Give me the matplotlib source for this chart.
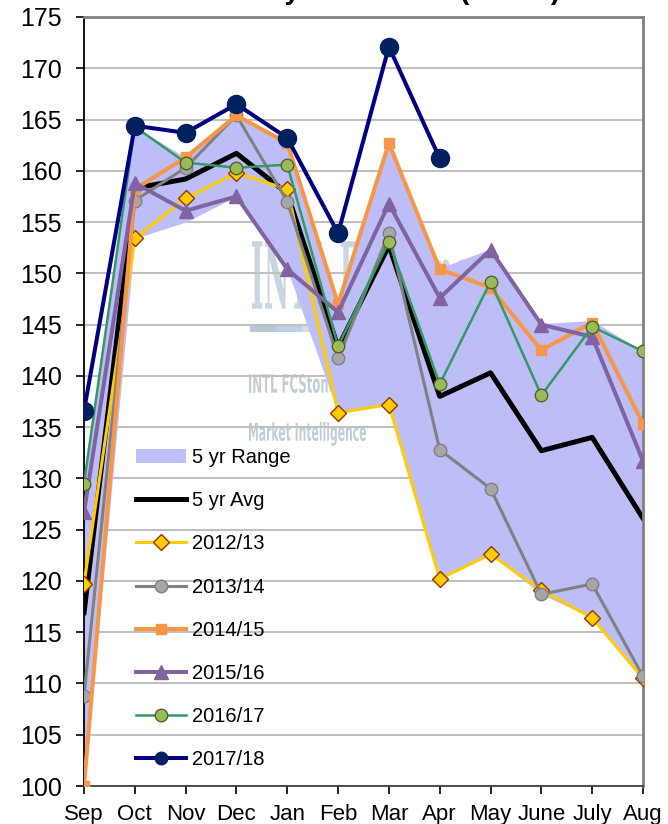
import matplotlib
matplotlib.use("Agg")
import matplotlib.pyplot as plt
from matplotlib.patches import Patch, PathPatch, Rectangle
from matplotlib.lines import Line2D
from matplotlib.textpath import TextPath
from matplotlib.font_manager import FontProperties
from matplotlib.transforms import Affine2D, IdentityTransform

plt.rcParams['font.family'] = ['Liberation Sans', 'DejaVu Sans']

# Marketing-year months
months = ['Sep', 'Oct', 'Nov', 'Dec', 'Jan', 'Feb', 'Mar', 'Apr', 'May', 'June', 'July', 'Aug']

# Seasons
s2012 = [119.7, 153.4, 157.3, 159.8, 158.2, 136.4, 137.2, 120.2, 122.6, 119.1, 116.4, 110.5]
s2013 = [108.8, 157.1, 160.3, 165.4, 157.0, 141.7, 153.9, 132.8, 129.0, 118.7, 119.7, 110.7]
s2014 = [100.0, 158.2, 161.3, 165.4, 162.7, 147.0, 162.7, 150.4, 148.6, 142.5, 145.2, 135.3]
s2015 = [126.7, 158.8, 156.1, 157.5, 150.4, 146.2, 156.8, 147.6, 152.3, 145.0, 143.8, 131.7]
s2016 = [129.5, 164.3, 160.8, 160.3, 160.6, 142.9, 153.1, 139.2, 149.2, 138.1, 144.8, 142.4]
s2017 = [136.6, 164.4, 163.7, 166.5, 163.2, 153.9, 172.1, 161.2]

avg5 = [116.9, 158.3, 159.2, 161.7, 157.8, 142.8, 152.7, 138.0, 140.3, 132.7, 134.0, 126.1]
range_lo = [100.0, 153.4, 155.0, 157.5, 150.4, 136.4, 137.2, 120.2, 122.6, 118.7, 116.4, 110.5]
range_hi = [129.5, 164.3, 161.3, 165.5, 162.8, 147.1, 162.8, 150.5, 152.4, 145.1, 145.4, 142.4]

W, H = 668, 824
fig = plt.figure(figsize=(W / 100, H / 100), dpi=100)
ax = fig.add_axes([84 / W, 38 / H, (643 - 84) / W, (786 - 17) / H])
x = list(range(len(months)))


def squeezed_text(s, left, top, bottom, right, color, family='DejaVu Sans', weight='normal'):
    # draw text stretched into a pixel box (top-left origin), behind the chart
    tp = TextPath((0, 0), s, size=100, prop=FontProperties(family=family, weight=weight))
    ext = tp.get_extents()
    sx = (right - left) / ext.width
    sy = (bottom - top) / ext.height
    tr = Affine2D().translate(-ext.x0, -ext.y0).scale(sx, sy).translate(left, H - bottom)
    fig.patches.append(PathPatch(tr.transform_path(tp), transform=IdentityTransform(),
                                 facecolor=color, edgecolor='none', zorder=-1))


# watermark (sits under the plot)
squeezed_text('INTL FCStone', 252, 240, 310, 470, '#c9d5df', family='DejaVu Serif', weight='bold')
for left, col in [(250, '#b9c8d5'), (276, '#bcd4e8'), (302, '#d5dde4')]:
    fig.patches.append(Rectangle((left, H - 332), 26, 8, transform=IdentityTransform(),
                                 facecolor=col, edgecolor='none', zorder=-1))
squeezed_text('INTL FCStone', 249, 374, 393, 336, '#bfcdd8', weight='bold')
squeezed_text('Market Intelligence', 249, 422, 446, 366, '#bfcdd8', weight='bold')

ax.set_facecolor('none')

ax.fill_between(x, range_lo, range_hi, color='#bdbef8', lw=0, zorder=1)
ax.plot(x, avg5, color='black', lw=3.6, zorder=2)
ax.plot(x, s2012, color='#ffcc00', lw=2.2, marker='D', ms=8.5, mfc='#ffcc00',
        mec='#993300', mew=1, zorder=3)
ax.plot(x, s2013, color='#808080', lw=2.2, marker='o', ms=9, mfc='#a6a6a6',
        mec='#808080', mew=1, zorder=3)
ax.plot(x, s2014, color='#f79646', lw=2.9, marker='s', ms=7.5, mfc='#f79646',
        mec='#f79646', zorder=3)
ax.plot(x, s2015, color='#8064a2', lw=2.9, marker='^', ms=10, mfc='#8064a2',
        mec='#8064a2', zorder=3)
ax.plot(x, s2016, color='#339966', lw=1.8, marker='o', ms=9, mfc='#9bbb59',
        mec='#4f6228', mew=1, zorder=3)
ax.plot(x[:len(s2017)], s2017, color='#000080', lw=2.9, marker='o', ms=13,
        mfc='#002060', mec='#002060', zorder=4)

ax.set_xlim(0, 11)
ax.set_ylim(100, 175)
ax.set_yticks(range(100, 176, 5))
ax.set_xticks(x)
ax.set_xticklabels(months)
ax.yaxis.grid(True, color='#c0c0c0', lw=1.5, zorder=0)
ax.set_axisbelow(True)
ax.tick_params(axis='y', labelsize=18, length=6, width=1.2, pad=10, direction='out')
ax.tick_params(axis='x', labelsize=16, length=6, width=1.2, pad=7, direction='out')

for side in ['top', 'right']:
    ax.spines[side].set_color('#808080')
    ax.spines[side].set_linewidth(2)
ax.spines['left'].set_linewidth(1.3)
ax.spines['bottom'].set_linewidth(1.3)
ax.spines['bottom'].set_color('#404040')

handles = [
    Patch(facecolor='#bdbef8', edgecolor='none'),
    Line2D([], [], color='black', lw=3.6),
    Line2D([], [], color='#ffcc00', lw=2.2, marker='D', ms=8.5, mfc='#ffcc00', mec='#993300'),
    Line2D([], [], color='#808080', lw=2.2, marker='o', ms=9, mfc='#a6a6a6', mec='#808080'),
    Line2D([], [], color='#f79646', lw=2.9, marker='s', ms=7.5, mfc='#f79646', mec='#f79646'),
    Line2D([], [], color='#8064a2', lw=2.9, marker='^', ms=10, mfc='#8064a2', mec='#8064a2'),
    Line2D([], [], color='#339966', lw=1.8, marker='o', ms=9, mfc='#9bbb59', mec='#4f6228'),
    Line2D([], [], color='#000080', lw=2.9, marker='o', ms=9, mfc='#002060', mec='#002060'),
]
labels = ['5 yr Range', '5 yr Avg', '2012/13', '2013/14', '2014/15', '2015/16', '2016/17', '2017/18']
fig.legend(handles, labels, loc='upper left', bbox_to_anchor=(128 / W, 1 - 440 / H),
           frameon=False, fontsize=14.5, handlelength=2.5, handletextpad=0.3,
           labelspacing=1.2, borderaxespad=0)

# title, mostly cut off by the top edge of the image
fig.text(362 / W, 1 + 1 / H, 'NOPA Soybean Crush (mil bu)', ha='center', va='baseline',
         fontsize=20, weight='bold')

fig.savefig('out.png', dpi=100)
